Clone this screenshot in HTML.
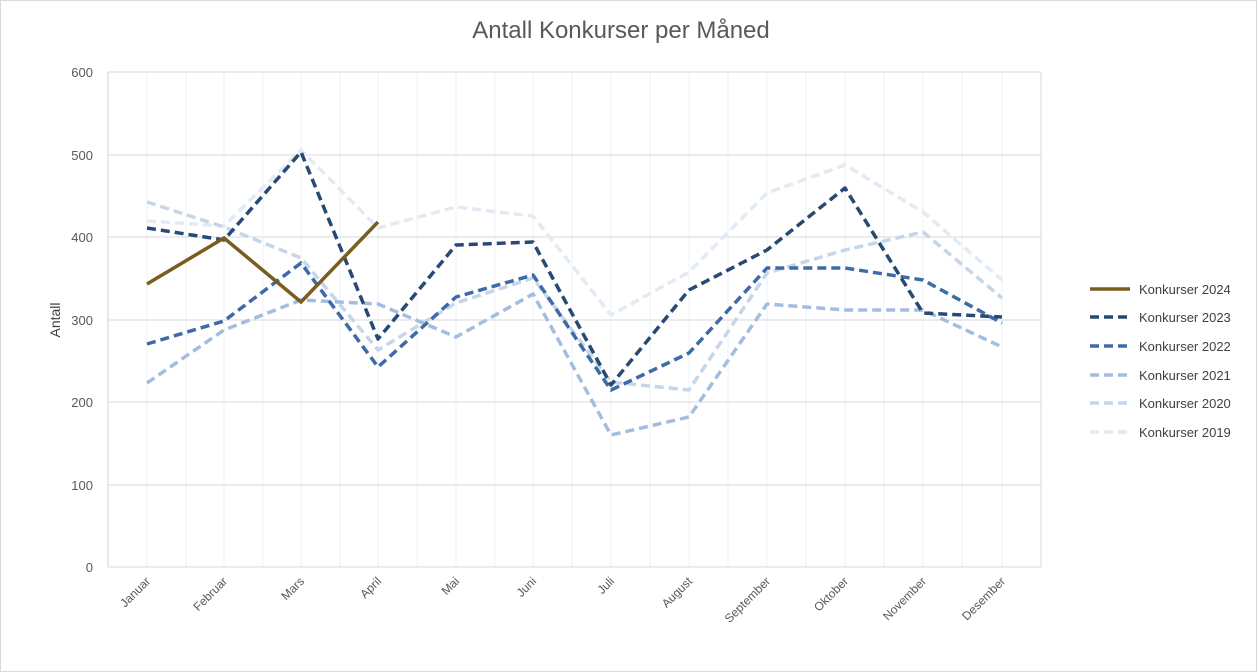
<!DOCTYPE html>
<html><head><meta charset="utf-8"><style>
body{margin:0;background:#fff}
svg{display:block;font-family:"Liberation Sans",sans-serif}
</style></head><body>
<svg width="1258" height="672" viewBox="0 0 1258 672">
<rect x="0.5" y="0.5" width="1256" height="671" fill="#fff" stroke="#d9d9d9"/>
<text x="621" y="38" text-anchor="middle" font-size="24" fill="#595959">Antall Konkurser per Måned</text>
<g stroke="#eef0f3" stroke-width="1">
<line x1="147" y1="72" x2="147" y2="567"/><line x1="186" y1="72" x2="186" y2="567"/><line x1="224" y1="72" x2="224" y2="567"/><line x1="263" y1="72" x2="263" y2="567"/><line x1="301" y1="72" x2="301" y2="567"/><line x1="340" y1="72" x2="340" y2="567"/><line x1="378" y1="72" x2="378" y2="567"/><line x1="417" y1="72" x2="417" y2="567"/><line x1="456" y1="72" x2="456" y2="567"/><line x1="495" y1="72" x2="495" y2="567"/><line x1="533" y1="72" x2="533" y2="567"/><line x1="572" y1="72" x2="572" y2="567"/><line x1="611" y1="72" x2="611" y2="567"/><line x1="650" y1="72" x2="650" y2="567"/><line x1="689" y1="72" x2="689" y2="567"/><line x1="728" y1="72" x2="728" y2="567"/><line x1="767" y1="72" x2="767" y2="567"/><line x1="806" y1="72" x2="806" y2="567"/><line x1="845" y1="72" x2="845" y2="567"/><line x1="884" y1="72" x2="884" y2="567"/><line x1="923" y1="72" x2="923" y2="567"/><line x1="962" y1="72" x2="962" y2="567"/><line x1="1002" y1="72" x2="1002" y2="567"/>
</g>
<g stroke="#d9d9d9" stroke-width="1">
<line x1="108" y1="72" x2="1041" y2="72"/><line x1="108" y1="155" x2="1041" y2="155"/><line x1="108" y1="237" x2="1041" y2="237"/><line x1="108" y1="320" x2="1041" y2="320"/><line x1="108" y1="402" x2="1041" y2="402"/><line x1="108" y1="485" x2="1041" y2="485"/><line x1="108" y1="567" x2="1041" y2="567"/>
<line x1="108" y1="72" x2="108" y2="567" stroke="#c8d4e3"/><line x1="1041" y1="72" x2="1041" y2="567"/>
</g>
<g font-size="13" fill="#595959" text-anchor="end">
<text x="93" y="77">600</text><text x="93" y="160">500</text><text x="93" y="242">400</text><text x="93" y="325">300</text><text x="93" y="407">200</text><text x="93" y="490">100</text><text x="93" y="572">0</text>
</g>
<text transform="translate(60,320) rotate(-90)" text-anchor="middle" font-size="14" fill="#404040">Antall</text>
<g font-size="12" fill="#595959" text-anchor="end">
<text transform="translate(151,582) rotate(-45)">Januar</text>
<text transform="translate(228,582) rotate(-45)">Februar</text>
<text transform="translate(305,582) rotate(-45)">Mars</text>
<text transform="translate(382,582) rotate(-45)">April</text>
<text transform="translate(460,582) rotate(-45)">Mai</text>
<text transform="translate(537,582) rotate(-45)">Juni</text>
<text transform="translate(615,582) rotate(-45)">Juli</text>
<text transform="translate(693,582) rotate(-45)">August</text>
<text transform="translate(771,582) rotate(-45)">September</text>
<text transform="translate(849,582) rotate(-45)">Oktober</text>
<text transform="translate(927,582) rotate(-45)">November</text>
<text transform="translate(1006,582) rotate(-45)">Desember</text>
</g>
<g fill="none" stroke-width="3.5" stroke-dasharray="9,5" stroke-linejoin="round">
<polyline stroke="#e2eaf4" points="147,221 224,226 301,150 378,228 456,207 533,216 611,315 689,272 767,193 845,165 923,212 1002,280"/>
<polyline stroke="#c5d5ea" points="147,202 224,227 301,258 378,350 456,303 533,278 611,382 689,390 767,273 845,250 923,232 1002,298"/>
<polyline stroke="#a3bde0" points="147,383 224,330 301,300 378,304 456,337 533,294 611,435 689,417 767,304 845,310 923,310 1002,347"/>
<polyline stroke="#3d6ba8" points="147,344 224,321 301,263 378,367 456,297 533,275 611,390 689,353 767,268 845,268 923,280 1002,323"/>
<polyline stroke="#264a73" points="147,228 224,240 301,152 378,339 456,245 533,242 611,385 689,290 767,250 845,188 923,313 1002,317"/>
</g>
<polyline fill="none" stroke="#7a5c1e" stroke-width="3.5" points="147,284 224,238 301,302 378,222"/>
<g font-size="13" fill="#404040">
<line x1="1090" y1="289" x2="1130" y2="289" stroke="#7a5c1e" stroke-width="3.5"/><text x="1139" y="294">Konkurser 2024</text>
<line x1="1090" y1="317" x2="1130" y2="317" stroke="#264a73" stroke-width="3.5" stroke-dasharray="9,5"/><text x="1139" y="322">Konkurser 2023</text>
<line x1="1090" y1="346" x2="1130" y2="346" stroke="#3d6ba8" stroke-width="3.5" stroke-dasharray="9,5"/><text x="1139" y="351">Konkurser 2022</text>
<line x1="1090" y1="375" x2="1130" y2="375" stroke="#a3bde0" stroke-width="3.5" stroke-dasharray="9,5"/><text x="1139" y="380">Konkurser 2021</text>
<line x1="1090" y1="403" x2="1130" y2="403" stroke="#c5d5ea" stroke-width="3.5" stroke-dasharray="9,5"/><text x="1139" y="408">Konkurser 2020</text>
<line x1="1090" y1="432" x2="1130" y2="432" stroke="#e2eaf4" stroke-width="3.5" stroke-dasharray="9,5"/><text x="1139" y="437">Konkurser 2019</text>
</g>
</svg>
</body></html>
